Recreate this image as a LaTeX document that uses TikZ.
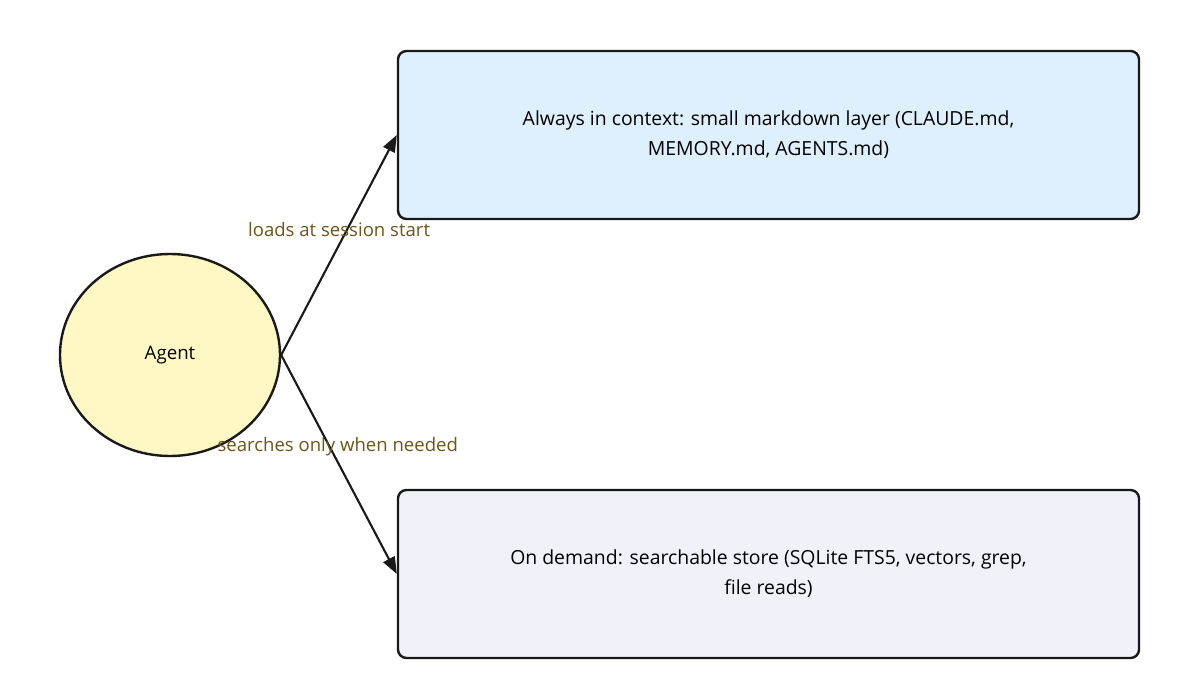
\documentclass[tikz,border=0pt]{standalone}
\usepackage{fontspec}
\setmainfont{Open Sans}
\usetikzlibrary{arrows.meta,shapes.geometric}
\definecolor{agentfill}{HTML}{FFF8C4}
\definecolor{ctxfill}{HTML}{DEF0FD}
\definecolor{storefill}{HTML}{EFF3F9}
\definecolor{labelbrown}{HTML}{6B5518}
\begin{document}
\begin{tikzpicture}[x=0.025cm,y=-0.025cm,
    agentnode/.style={ellipse,draw=black!90,line width=1.7pt,fill=agentfill,
      minimum width=220*0.025cm,minimum height=202*0.025cm,inner sep=0pt,font=\fontsize{13.3}{16}\selectfont},
    layerbox/.style={rectangle,rounded corners=6pt,draw=black!90,line width=1.7pt,
      minimum width=741*0.025cm,minimum height=168*0.025cm,align=center,
      font=\fontsize{13.8}{21.5}\selectfont},
    flow/.style={line width=1.5pt,draw=black!90,-{Triangle[length=12pt,width=9pt]}},
    flowlabel/.style={text=labelbrown,font=\fontsize{13.2}{15}\selectfont,inner sep=1pt}]
    \useasboundingbox (0,0) rectangle (1200,675);
    \node[agentnode] (agent) at (170,355) {Agent};
    \node[layerbox,fill=ctxfill] (ctx) at (768.5,135) {Always in context: small markdown layer (CLAUDE.md,\\MEMORY.md, AGENTS.md)};
    \node[layerbox,fill=storefill] (store) at (768.5,574) {On demand: searchable store (SQLite FTS5, vectors, grep,\\file reads)};
    \draw[flow] (agent.east) -- node[flowlabel,pos=0.57,xshift=-8*0.025cm] {loads at session start} (ctx.west);
    \draw[flow] (agent.east) -- node[flowlabel,pos=0.42,xshift=8*0.025cm] {searches only when needed} (store.west);
\end{tikzpicture}
\end{document}
